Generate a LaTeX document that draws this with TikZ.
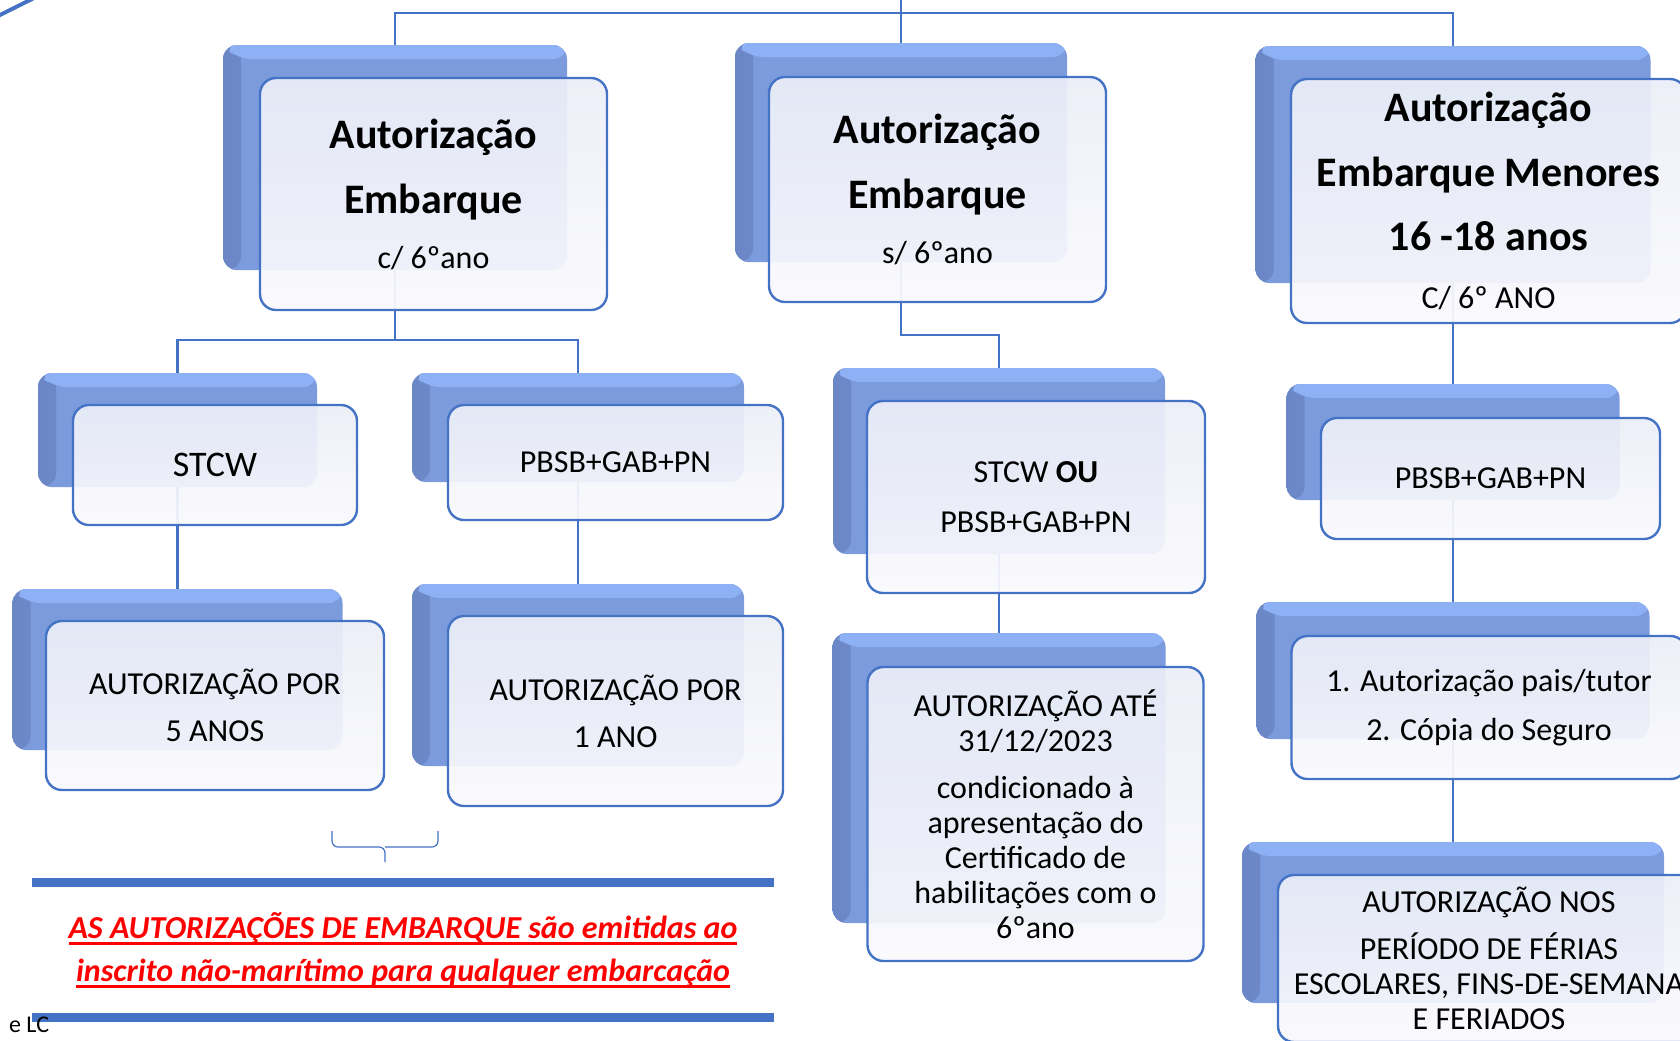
\documentclass[tikz,border=0pt]{standalone}
\usepackage{fontspec}
\setmainfont{Carlito}
\usepackage{xcolor}
\usepackage{tikz}
\usetikzlibrary{positioning, backgrounds}
\definecolor{linkblue}{HTML}{4472C4}
\definecolor{backlight}{HTML}{8EB0F4}
\definecolor{backmid}{HTML}{7B9BDD}
\definecolor{backdark}{HTML}{6C87C6}
\definecolor{fronttop}{HTML}{ECEEF8}
\definecolor{frontbottom}{HTML}{FAFAFD}
\definecolor{notered}{HTML}{FF0000}
\newcommand{\subline}[1]{{\fontsize{16}{20}\selectfont\mdseries #1}}
\newcommand{\redline}[1]{\setbox0\hbox{#1}\rlap{\rule[-3pt]{\wd0}{1.1pt}}\box0}
\tikzset{
back box/.style = {rectangle, rounded corners = 7pt, fill = backmid, draw = none, inner sep = 0pt,
    path picture = {
        \shade[left color = backdark, right color = backmid] (path picture bounding box.north west) rectangle ([xshift = 9pt]path picture bounding box.south west);
        \fill[backlight] (path picture bounding box.north west) -- (path picture bounding box.north east) -- ([yshift = -7pt]path picture bounding box.north east) -- ([shift = {(7pt, -7pt)}]path picture bounding box.north west) -- cycle;
    }},
front box/.style = {rectangle, rounded corners = 8pt, draw = linkblue, line width = 1.2pt, top color = fronttop, bottom color = frontbottom, fill opacity = 0.93, text opacity = 1, align = center, inner sep = 0pt},
title box/.style = {front box, font = \fontsize{21}{32.5}\selectfont\bfseries},
link/.style = {draw = linkblue, line width = 1.4pt},
bar/.style = {fill = linkblue},
note/.style = {align = center, text = notered, font = \fontsize{16}{21.5}\selectfont\bfseries\itshape},
}

\begin{document}
\begin{tikzpicture}[x = 0.5pt, y = -0.5pt]
    \useasboundingbox (0, 0) rectangle (1680, 1040);
    \clip (0, 0) rectangle (1680, 1040);
    \draw[linkblue, line width = 2pt] (-10, 20) -- (40, -5);
    % top level
    \node[back box, minimum width = 172pt, minimum height = 112.5pt] (aBack) at (395, 157.5) {};
    \node[title box, minimum width = 173.5pt, minimum height = 116pt] (a) at (433.5, 194) {Autorização\\Embarque\\[-5pt]\subline{c/ 6ºano}};
    \node[back box, minimum width = 166pt, minimum height = 109.5pt] (bBack) at (901, 152.5) {};
    \node[title box, minimum width = 168.5pt, minimum height = 112.5pt] (b) at (937.5, 189.5) {Autorização\\Embarque\\[-5pt]\subline{s/ 6ºano}};
    \node[back box, minimum width = 197.5pt, minimum height = 118.5pt] (cBack) at (1453, 164.5) {};
    \node[title box, minimum width = 197.5pt, minimum height = 122pt] (c) at (1488.5, 201) {Autorização\\Embarque Menores\\[-0.5pt]16 -18 anos\\[-3.5pt]\subline{C/ 6º ANO}};
    % second level
    \node[back box, minimum width = 139.5pt, minimum height = 57pt] (stcwBack) at (177.5, 430) {};
    \node[front box, minimum width = 142pt, minimum height = 60pt, font = \fontsize{18}{22}\selectfont] (stcw) at (215, 465) {STCW};
    \node[back box, minimum width = 166pt, minimum height = 54.5pt] (pbsbBack) at (578, 427.5) {};
    \node[front box, minimum width = 167.5pt, minimum height = 57.5pt, font = \fontsize{16}{20}\selectfont] (pbsb) at (615.5, 462.5) {PBSB+GAB+PN};
    \node[back box, minimum width = 166pt, minimum height = 93pt] (ouBack) at (999, 461) {};
    \node[front box, minimum width = 169pt, minimum height = 96pt, font = \fontsize{16}{25}\selectfont] (ou) at (1036, 497) {STCW \textbf{OU}\\PBSB+GAB+PN};
    \node[back box, minimum width = 166.5pt, minimum height = 58pt] (pbsbTwoBack) at (1453, 442) {};
    \node[front box, minimum width = 169.5pt, minimum height = 60.5pt, font = \fontsize{16}{20}\selectfont] (pbsbTwo) at (1490.5, 478.5) {PBSB+GAB+PN};
    % third level
    \node[back box, minimum width = 165pt, minimum height = 80.5pt] (cincoBack) at (177.5, 669.5) {};
    \node[front box, minimum width = 169pt, minimum height = 84.5pt, font = \fontsize{16}{23.5}\selectfont] (cinco) at (215, 705.5) {AUTORIZAÇÃO POR\\5 ANOS};
    \node[back box, minimum width = 166pt, minimum height = 91pt] (umBack) at (578, 675) {};
    \node[front box, minimum width = 167.5pt, minimum height = 95pt, font = \fontsize{16}{23.5}\selectfont] (um) at (615.5, 711) {AUTORIZAÇÃO POR\\1 ANO};
    \node[back box, minimum width = 166.5pt, minimum height = 145pt] (ateBack) at (999, 778) {};
    \node[front box, minimum width = 168pt, minimum height = 147pt, font = \fontsize{16}{17.5}\selectfont] (ate) at (1035.5, 814) {AUTORIZAÇÃO ATÉ\\31/12/2023\\[6pt]condicionado à\\apresentação do\\Certificado de\\habilitações com o\\6ºano};
    \node[back box, minimum width = 196.5pt, minimum height = 68.5pt] (paisBack) at (1453, 670.5) {};
    \node[front box, minimum width = 197.5pt, minimum height = 71.5pt, font = \fontsize{16}{24.5}\selectfont] (pais) at (1489, 707.5) {1. Autorização pais/tutor\\2. Cópia do Seguro};
    \node[back box, minimum width = 211pt, minimum height = 80.5pt] (feriasBack) at (1453, 922.5) {};
    \node[front box, minimum width = 211pt, minimum height = 83.5pt, font = \fontsize{16}{17.5}\selectfont] (ferias) at (1489, 958.5) {AUTORIZAÇÃO NOS\\[6pt]PERÍODO DE FÉRIAS\\ESCOLARES, FINS-DE-SEMANA\\E FERIADOS};
    % connectors
    \begin{scope}[on background layer]
        \coordinate (top) at (901, -5);
        \coordinate (bus) at (901, 13);
        \coordinate (aFork) at (395, 340);
        \coordinate (bFork) at (901, 335);
        \draw[link] (top) -- (bus);
        \draw[link] (aBack.north) |- (bus) -| (cBack.north);
        \draw[link] (bBack.north) -- (bus);
        \draw[link] (aBack.south) -- (aFork);
        \draw[link] (stcwBack.north) |- (aFork) -| (pbsbBack.north);
        \draw[link] (stcwBack.south) -- (cincoBack.north);
        \draw[link] (pbsbBack.south) -- (umBack.north);
        \draw[link] (bBack.south) -- (bFork) -| (ouBack.north);
        \draw[link] (ouBack.south) -- (ateBack.north);
        \draw[link] (cBack.south) -- (pbsbTwoBack.north);
        \draw[link] (pbsbTwoBack.south) -- (paisBack.north);
        \draw[link] (paisBack.south) -- (feriasBack.north);
    \end{scope}
    % brace and note
    \draw[linkblue, line width = 0.6pt, rounded corners = 3pt] (332, 831) |- (385, 847) -- (385, 862);
    \draw[linkblue, line width = 0.6pt, rounded corners = 3pt] (438, 831) |- (385, 847);
    \fill[bar] (32, 878) rectangle (774, 887);
    \fill[bar] (32, 1013) rectangle (774, 1022);
    \node[note] (warn) at (403, 950) {\redline{AS AUTORIZAÇÕES DE EMBARQUE são emitidas ao}\\\redline{inscrito não-marítimo para qualquer embarcação}};
    \node[anchor = west, font = \fontsize{12}{14}\selectfont] (credit) at (2, 1025) {e LC};
\end{tikzpicture}
\end{document}
